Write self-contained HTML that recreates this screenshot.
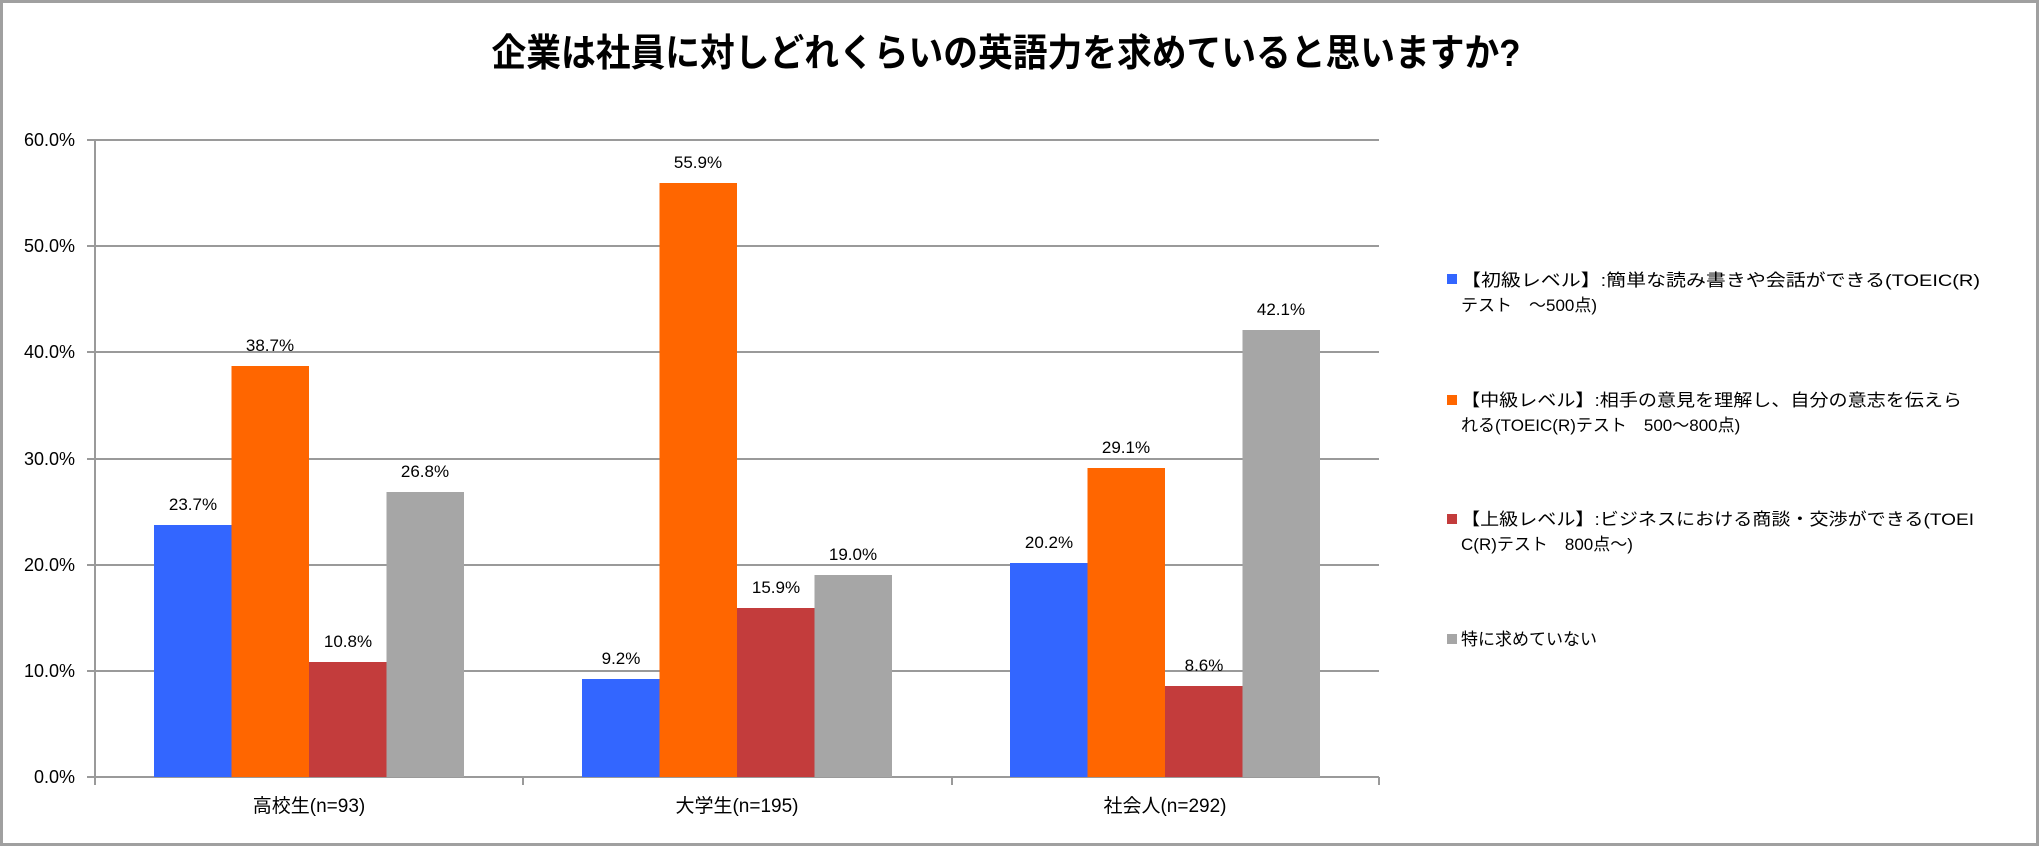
<!DOCTYPE html>
<html><head><meta charset="utf-8"><style>
html,body{margin:0;padding:0;background:#fff}
svg{display:block}
text{font-family:"Liberation Sans","Noto Sans CJK JP",sans-serif;fill:#000}
</style></head><body>
<svg width="2039" height="846" viewBox="0 0 2039 846" xmlns="http://www.w3.org/2000/svg">
<rect x="1.5" y="1.5" width="2036" height="843" fill="#fff" stroke="#a0a0a0" stroke-width="3"/>
<text x="1006" y="66" font-size="38" font-weight="bold" text-anchor="middle" textLength="1029" lengthAdjust="spacingAndGlyphs">企業は社員に対しどれくらいの英語力を求めていると思いますか?</text>
<g stroke="#9a9a9a" stroke-width="2">
<line x1="87" y1="140" x2="1379" y2="140"/>
<line x1="87" y1="246" x2="1379" y2="246"/>
<line x1="87" y1="352" x2="1379" y2="352"/>
<line x1="87" y1="459" x2="1379" y2="459"/>
<line x1="87" y1="565" x2="1379" y2="565"/>
<line x1="87" y1="671" x2="1379" y2="671"/>
<line x1="87" y1="777" x2="1379" y2="777"/>
<line x1="95" y1="140" x2="95" y2="785"/>
<line x1="523" y1="777" x2="523" y2="785"/>
<line x1="952" y1="777" x2="952" y2="785"/>
<line x1="1379" y1="777" x2="1379" y2="785"/>
</g>
<g font-size="18" text-anchor="end">
<text x="75" y="146">60.0%</text>
<text x="75" y="252">50.0%</text>
<text x="75" y="358">40.0%</text>
<text x="75" y="465">30.0%</text>
<text x="75" y="571">20.0%</text>
<text x="75" y="677">10.0%</text>
<text x="75" y="783">0.0%</text>
</g>
<rect x="154" y="525" width="77.5" height="252" fill="#3366ff"/>
<rect x="231.5" y="366" width="77.5" height="411" fill="#ff6600"/>
<rect x="309" y="662" width="77.5" height="115" fill="#c33c3c"/>
<rect x="386.5" y="492" width="77.5" height="285" fill="#a6a6a6"/>
<rect x="582" y="679" width="77.5" height="98" fill="#3366ff"/>
<rect x="659.5" y="183" width="77.5" height="594" fill="#ff6600"/>
<rect x="737" y="608" width="77.5" height="169" fill="#c33c3c"/>
<rect x="814.5" y="575" width="77.5" height="202" fill="#a6a6a6"/>
<rect x="1010" y="563" width="77.5" height="214" fill="#3366ff"/>
<rect x="1087.5" y="468" width="77.5" height="309" fill="#ff6600"/>
<rect x="1165" y="686" width="77.5" height="91" fill="#c33c3c"/>
<rect x="1242.5" y="330" width="77.5" height="447" fill="#a6a6a6"/>
<g font-size="17" text-anchor="middle">
<text x="193" y="510">23.7%</text>
<text x="270" y="351">38.7%</text>
<text x="348" y="647">10.8%</text>
<text x="425" y="477">26.8%</text>
<text x="621" y="664">9.2%</text>
<text x="698" y="168">55.9%</text>
<text x="776" y="593">15.9%</text>
<text x="853" y="560">19.0%</text>
<text x="1049" y="548">20.2%</text>
<text x="1126" y="453">29.1%</text>
<text x="1204" y="671">8.6%</text>
<text x="1281" y="315">42.1%</text>
</g>
<g font-size="19" text-anchor="middle">
<text x="309" y="812">高校生(n=93)</text>
<text x="737" y="812">大学生(n=195)</text>
<text x="1165" y="812">社会人(n=292)</text>
</g>
<rect x="1447" y="274" width="10" height="10" fill="#3366ff"/>
<rect x="1447" y="395" width="10" height="10" fill="#ff6600"/>
<rect x="1447" y="514" width="10" height="10" fill="#c33c3c"/>
<rect x="1447" y="634" width="10" height="10" fill="#a6a6a6"/>
<g font-size="17">
<text x="1461" y="286" textLength="519" lengthAdjust="spacingAndGlyphs">【初級レベル】:簡単な読み書きや会話ができる(TOEIC(R)</text>
<text x="1461" y="311">テスト　～500点)</text>
<text x="1461" y="406" textLength="501" lengthAdjust="spacingAndGlyphs">【中級レベル】:相手の意見を理解し、自分の意志を伝えら</text>
<text x="1461" y="431">れる(TOEIC(R)テスト　500～800点)</text>
<text x="1461" y="525" textLength="513" lengthAdjust="spacingAndGlyphs">【上級レベル】:ビジネスにおける商談・交渉ができる(TOEI</text>
<text x="1461" y="550">C(R)テスト　800点～)</text>
<text x="1461" y="645">特に求めていない</text>
</g>
</svg>
</body></html>
